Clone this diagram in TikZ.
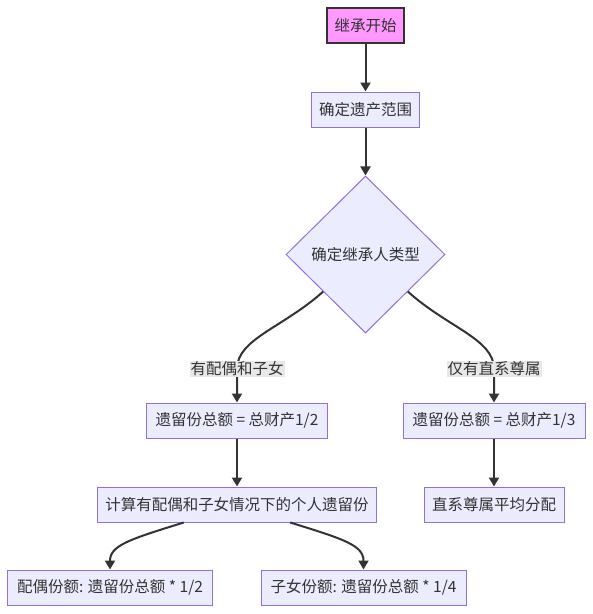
\documentclass[tikz,border=0pt]{standalone}
\usepackage{fontspec}
\setmainfont{Noto Sans CJK SC}
\usetikzlibrary{shapes.geometric,arrows.meta,calc}
\definecolor{nfill}{HTML}{ECECFF}
\definecolor{nline}{HTML}{9370DB}
\definecolor{tcol}{HTML}{333333}
\definecolor{sfill}{HTML}{FF99FF}
\definecolor{lblbg}{HTML}{E8E8E8}
\begin{document}
\begin{tikzpicture}[x=1pt,y=-1pt,
  every node/.style={font=\fontsize{15.5}{18}\selectfont, text=tcol},
  box/.style={draw=nline, fill=nfill, line width=1pt, minimum height=35pt, inner xsep=0pt, inner ysep=0pt},
  startbox/.style={box, draw=tcol, fill=sfill, line width=2pt},
  decide/.style={diamond, draw=nline, fill=nfill, line width=1pt, minimum width=159pt, minimum height=157pt, inner sep=0pt},
  elabel/.style={fill=lblbg, inner sep=1pt},
  flow/.style={draw=tcol, line width=2pt, -{Triangle[length=9pt,width=10pt]}}
]
\useasboundingbox (0,0) rectangle (593,614);
\node[startbox, minimum width=77pt] (s) at (365.5,25.5) {继承开始};
\node[box, minimum width=108pt] (r) at (365.5,109.5) {确定遗产范围};
\node[decide] (d) at (365.5,254.5) {确定继承人类型};
\node[box, minimum width=181pt] (b1) at (237,420.5) {遗留份总额 = 总财产1/2};
\node[box, minimum width=182pt] (b2) at (494,420.5) {遗留份总额 = 总财产1/3};
\node[box, minimum width=279pt] (c) at (237,504.5) {计算有配偶和子女情况下的个人遗留份};
\node[box, minimum width=140pt] (e) at (494,504.5) {直系尊属平均分配};
\node[box, minimum width=205pt] (p) at (110,587.5) {配偶份额: 遗留份总额 * 1/2};
\node[box, minimum width=205pt] (k) at (363.5,587.5) {子女份额: 遗留份总额 * 1/4};

\draw[flow] (s) -- (r);
\draw[flow] (r) -- (d);
\coordinate (dl) at ($(d.west)!0.47!(d.south)$);
\coordinate (dr) at ($(d.east)!0.47!(d.south)$);
\coordinate (l1pos) at (237,369);
\coordinate (l2pos) at (494,369);
\draw[flow] (dl) .. controls +(-40,36) and +(0,-30) .. (l1pos) -- (b1.north);
\draw[flow] (dr) .. controls +(40,36) and +(0,-30) .. (l2pos) -- (b2.north);
\node[elabel] (l1) at (l1pos) {有配偶和子女};
\node[elabel] (l2) at (l2pos) {仅有直系尊属};
\draw[flow] (b1) -- (c);
\draw[flow] (b2) -- (e);
\draw[flow] ($(c.south west)!0.31!(c.south east)$) .. controls +(-55,17) and +(0,-24) .. (p.north);
\draw[flow] ($(c.south west)!0.69!(c.south east)$) .. controls +(55,17) and +(0,-24) .. (k.north);
\end{tikzpicture}
\end{document}
